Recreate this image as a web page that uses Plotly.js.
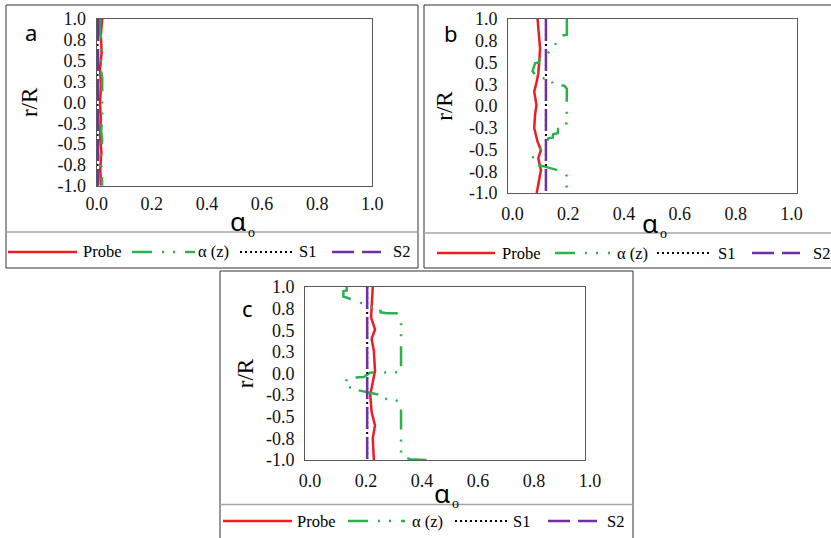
<!DOCTYPE html>
<html><head><meta charset="utf-8">
<script src="https://cdn.plot.ly/plotly-3.0.1.min.js"></script>
<style>html,body{margin:0;padding:0;background:#fff;}#chart{width:831px;height:538px;}</style>
</head><body><div id="chart"></div>
<script>
// ---------- DATA ----------
const seriesNames = ["Probe", "α (z)", "S1", "S2"];
const xTickVals = [0, 0.2, 0.4, 0.6, 0.8, 1.0];
const xTickText = ["0.0", "0.2", "0.4", "0.6", "0.8", "1.0"];
const yTickVals = [-1, -0.75, -0.5, -0.25, 0, 0.25, 0.5, 0.75, 1];
const yTickText = ["-1.0", "-0.8", "-0.5", "-0.3", "0.0", "0.3", "0.5", "0.8", "1.0"];
const xTitleMain = "α";
const xTitleSub = "o";
const yTitle = "r/R";
const panelLetters = ["a", "b", "c"];

// Panel a
const rProbeA = [1.0, 0.8, 0.6, 0.4, 0.2, 0.0, -0.2, -0.4, -0.6, -0.8, -1.0];
const probeA  = [0.020, 0.015, 0.018, 0.012, 0.016, 0.012, 0.015, 0.012, 0.017, 0.013, 0.016];
const rAlphaA = [1.0, 0.82, 0.8, 0.55, 0.5, 0.4, 0.3, 0.2, -0.2, -0.35, -0.45, -0.6, -0.7, -0.8, -1.0];
const alphaA  = [0.012, 0.012, 0.015, 0.020, 0.016, 0.014, 0.020, 0.020, 0.020, 0.016, 0.020, 0.015, 0.013, 0.018, 0.020];
const rS1A = [1.0, -1.0];
const s1A  = [0.003, 0.003];
const rS2A = [1.0, -1.0];
const s2A  = [0.005, 0.005];

// Panel b
const rProbeB = [1.0, 0.85, 0.66, 0.51, 0.375, 0.28, 0.165, 0.01, -0.10, -0.255, -0.41, -0.505, -0.60, -0.735, -0.81, -1.0];
const probeB  = [0.090, 0.095, 0.099, 0.096, 0.0925, 0.087, 0.078, 0.086, 0.081, 0.078, 0.090, 0.102, 0.0925, 0.102, 0.0985, 0.087];
const rAlphaB = [1.0, 0.82, 0.81, 0.555, 0.548, 0.502, 0.49, 0.40, 0.32, 0.318, 0.30, 0.24, 0.233, 0.20, -0.199, -0.207, -0.256, -0.264, -0.314, -0.325, -0.364, -0.371, -0.391, -0.583, -0.60, -0.62, -0.678, -0.686, -0.697, -0.755, -0.80, -1.0];
const alphaB  = [0.195, 0.195, 0.180, 0.114, 0.099, 0.095, 0.081, 0.072, 0.090, 0.128, 0.140, 0.146, 0.186, 0.195, 0.194, 0.182, 0.180, 0.164, 0.162, 0.146, 0.144, 0.128, 0.126, 0.0746, 0.071, 0.081, 0.087, 0.102, 0.1165, 0.180, 0.194, 0.194];
const rS1B = [1.0, -1.0];
const s1B  = [0.120, 0.120];
const rS2B = [1.0, -1.0];
const s2B  = [0.120, 0.120];

// Panel c
const rProbeC = [1.0, 0.80, 0.65, 0.51, 0.40, 0.26, 0.03, -0.25, -0.445, -0.60, -0.75, -1.0];
const probeC  = [0.242, 0.238, 0.236, 0.250, 0.238, 0.246, 0.250, 0.233, 0.238, 0.250, 0.242, 0.246];
const rAlphaC = [1.0, 0.96, 0.95, 0.89, 0.87, 0.772, 0.765, 0.707, 0.696, 0.696, 0.62, 0.014, 0.01, -0.04, -0.05, -0.098, -0.156, -0.168, -0.194, -0.233, -0.245, -0.29, -0.298, -0.35, -0.95, -0.99, -1.0];
const alphaC  = [0.149, 0.149, 0.137, 0.137, 0.155, 0.235, 0.268, 0.270, 0.292, 0.327, 0.343, 0.343, 0.232, 0.210, 0.150, 0.146, 0.146, 0.190, 0.190, 0.256, 0.265, 0.268, 0.321, 0.343, 0.343, 0.375, 0.434];
const rS1C = [1.0, -1.0];
const s1C  = [0.222, 0.222];
const rS2C = [1.0, -1.0];
const s2C  = [0.222, 0.222];

// ---------- STYLE ----------
const W = 831, H = 538;
const PX = v => v / W, PY = v => 1 - v / H;
const SERIF = '"Liberation Serif","Times New Roman",serif';
const SANS = '"Noto Sans","Open Sans",sans-serif';
const styles = [
  {color: '#ee1c25', width: 2.5, dash: 'solid'},
  {color: '#2bb24c', width: 2.5, dash: '20px,10px,2px,9px,2px,10px'},
  {color: '#000000', width: 2, dash: '2px,3px'},
  {color: '#7030a0', width: 2.5, dash: '22px,8px'}
];

function tr(x, y, i, suf) {
  return {x: x, y: y, type: 'scatter', mode: 'lines', xaxis: 'x' + suf, yaxis: 'y' + suf,
    name: seriesNames[i], line: {color: styles[i].color, width: styles[i].width, dash: styles[i].dash},
    showlegend: false, hoverinfo: 'skip'};
}

const data = [
  tr(probeA, rProbeA, 0, ''), tr(alphaA, rAlphaA, 1, ''), tr(s1A, rS1A, 2, ''), tr(s2A, rS2A, 3, ''),
  tr(probeB, rProbeB, 0, '2'), tr(alphaB, rAlphaB, 1, '2'), tr(s1B, rS1B, 2, '2'), tr(s2B, rS2B, 3, '2'),
  tr(probeC, rProbeC, 0, '3'), tr(alphaC, rAlphaC, 1, '3'), tr(s1C, rS1C, 2, '3'), tr(s2C, rS2C, 3, '3')
];

function xa(l, r, range, anchor, shift, standoff) {
  return {domain: [PX(l), PX(r)], range: range, anchor: anchor,
    tickmode: 'array', tickvals: xTickVals, ticktext: xTickText,
    tickfont: {family: SERIF, size: 18, color: '#111'},
    ticks: '', ticklabelshift: shift, ticklabelstandoff: standoff,
    showgrid: false, zeroline: false, showline: true, linecolor: '#595959', linewidth: 1, mirror: true,
    fixedrange: true};
}
function ya(top, bot, anchor, standoff) {
  return {domain: [PY(bot), PY(top)], range: [-1, 1], anchor: anchor,
    tickmode: 'array', tickvals: yTickVals, ticktext: yTickText,
    tickfont: {family: SERIF, size: 18, color: '#111'},
    ticks: 'outside', ticklen: 6, tickcolor: 'rgba(0,0,0,0)',
    showgrid: false, zeroline: false, showline: true, linecolor: '#595959', linewidth: 1, mirror: true,
    title: {text: yTitle, font: {family: SERIF, size: 23, color: '#000'}, standoff: standoff},
    fixedrange: true};
}

const shapes = [];
function box(x0, y0, x1, y1) {
  shapes.push({type: 'rect', xref: 'paper', yref: 'paper', x0: PX(x0), x1: PX(x1), y0: PY(y1), y1: PY(y0),
    line: {color: '#333', width: 1}, fillcolor: 'rgba(0,0,0,0)', layer: 'below'});
}
function hline(x0, x1, y, color, width, dash) {
  shapes.push({type: 'line', xref: 'paper', yref: 'paper', x0: PX(x0), x1: PX(x1), y0: PY(y), y1: PY(y),
    line: {color: color, width: width, dash: dash || 'solid'}});
}
box(6, 5, 418, 268);
box(424, 5, 840, 268);
box(220, 271, 633, 545);
hline(6, 418, 232, '#a6a6a6', 1.5);
hline(424, 831, 233, '#a6a6a6', 1.5);
hline(220, 633, 504.5, '#a6a6a6', 1.5);

const annotations = [];
function legend(y, items) {
  items.forEach((it, i) => {
    hline(it[0], it[1], y, styles[i].color, styles[i].width, styles[i].dash);
    annotations.push({xref: 'paper', yref: 'paper', x: PX(it[2]), y: PY(y), xanchor: 'left', yanchor: 'middle',
      text: seriesNames[i], showarrow: false, font: {family: SERIF, size: 16.5, color: '#000'}, borderpad: 0});
  });
}
legend(252, [[8, 77, 82], [132, 195, 197], [240, 295, 298], [332, 381, 392]]);
legend(253, [[437, 495, 501], [555, 610, 616], [657, 712, 717], [752, 800, 812]]);
legend(521, [[223, 292, 296], [348, 405, 411], [455, 508, 512], [548, 597, 606]]);

function label(t, x, y, font) {
  annotations.push({xref: 'paper', yref: 'paper', x: PX(x), y: PY(y), xanchor: 'center', yanchor: 'middle',
    text: t, showarrow: false, font: font, borderpad: 0});
}
const letterFont = {family: SANS, size: 22, color: '#000'};
label(panelLetters[0], 31, 32, letterFont);
label(panelLetters[1], 451, 33, letterFont);
label(panelLetters[2], 247, 308, letterFont);
// x-axis titles (alpha with subscript o) under each panel
const xTitleFont = {family: SANS, size: 26, color: '#000'};
const xSubFont = {family: SERIF, size: 14, color: '#000'};
label(xTitleMain, 238, 221, xTitleFont);   label(xTitleSub, 251, 232, xSubFont);
label(xTitleMain, 650, 223, xTitleFont);   label(xTitleSub, 663, 234, xSubFont);
label(xTitleMain, 442, 493, xTitleFont);   label(xTitleSub, 455, 503, xSubFont);

const layout = {
  width: W, height: H, margin: {l: 0, r: 0, t: 0, b: 0}, autosize: false,
  paper_bgcolor: '#fff', plot_bgcolor: '#fff', showlegend: false,
  xaxis: xa(96.7, 372.3, [0, 1], 'y', 0, 2),
  yaxis: ya(19, 185.7, 'x', 13),
  xaxis2: xa(508, 797, [-0.016, 1.02], 'y2', 0, 4),
  yaxis2: ya(19, 193, 'x2', 9),
  xaxis3: xa(305, 585, [0, 1], 'y3', 5, 4),
  yaxis3: ya(287, 460, 'x3', 5),
  shapes: shapes, annotations: annotations
};

Plotly.newPlot('chart', data, layout, {staticPlot: true, displayModeBar: false});
</script></body></html>
